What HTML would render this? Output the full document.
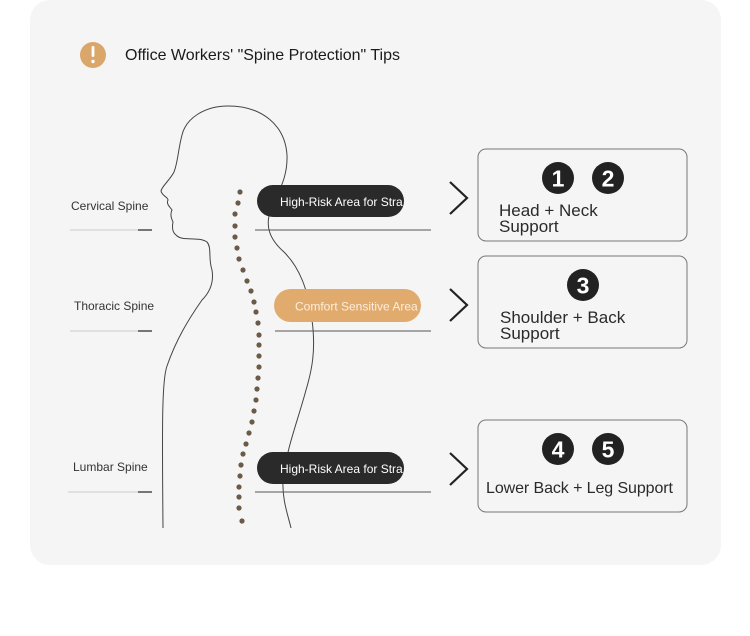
<!DOCTYPE html>
<html><head><meta charset="utf-8"><style>
html,body{margin:0;padding:0;background:#fff;width:750px;height:636px;overflow:hidden}
svg{display:block}
text{font-family:"Liberation Sans",Arial,sans-serif}
</style></head><body>
<svg width="750" height="636" viewBox="0 0 750 636" xmlns="http://www.w3.org/2000/svg">
<rect x="30" y="0" width="691" height="565" rx="20" fill="#f5f5f5"/>
<circle cx="93" cy="55" r="13" fill="#dba66a"/>
<rect x="91.6" y="46" width="2.8" height="11" rx="1.2" fill="#fff"/>
<circle cx="93" cy="61.5" r="1.7" fill="#fff"/>
<text x="125" y="60" font-size="16" fill="#1a1a1a" textLength="275">Office Workers' "Spine Protection" Tips</text>

<path d="M228,106 C205,106 186,118 182,135 C178,150 178,162 174,172 C170,180 162,186 161,191 C162,196 168,197 168,200 C166,204 170,207 172,210 C170,214 171,218 173,222 C172,227 172,232 176,235 C182,242 198,236 207,242 C212,248 208,258 212,270 C214,282 210,292 202,300 C188,320 176,340 167,366 C162,380 162,420 163,528" fill="none" stroke="#444" stroke-width="1"/>
<path d="M228,106 C262,106 285,125 287,155 C288,180 276,195 270,212 C266,225 268,238 284,252 C300,268 308,290 312,320 C316,350 312,370 306,390 C298,420 286,450 283,480 C282,500 288,515 291,528" fill="none" stroke="#444" stroke-width="1"/>

<g fill="#6b5a48">
<circle cx="240" cy="192" r="2.6"/><circle cx="238" cy="203" r="2.6"/><circle cx="235" cy="214" r="2.6"/><circle cx="235" cy="226" r="2.6"/><circle cx="235" cy="237" r="2.6"/><circle cx="237" cy="248" r="2.6"/><circle cx="239" cy="259" r="2.6"/><circle cx="243" cy="270" r="2.6"/><circle cx="247" cy="281" r="2.6"/><circle cx="251" cy="291" r="2.6"/><circle cx="254" cy="302" r="2.6"/><circle cx="256" cy="312" r="2.6"/><circle cx="258" cy="323" r="2.6"/><circle cx="259" cy="335" r="2.6"/><circle cx="259" cy="345" r="2.6"/><circle cx="259" cy="356" r="2.6"/><circle cx="259" cy="367" r="2.6"/><circle cx="258" cy="378" r="2.6"/><circle cx="257" cy="389" r="2.6"/><circle cx="256" cy="400" r="2.6"/><circle cx="254" cy="411" r="2.6"/><circle cx="252" cy="422" r="2.6"/><circle cx="249" cy="433" r="2.6"/><circle cx="246" cy="444" r="2.6"/><circle cx="243" cy="454" r="2.6"/><circle cx="241" cy="465" r="2.6"/><circle cx="240" cy="476" r="2.6"/><circle cx="239" cy="487" r="2.6"/><circle cx="239" cy="497" r="2.6"/><circle cx="239" cy="508" r="2.6"/><circle cx="242" cy="521" r="2.6"/>
</g>

<text x="71" y="210" font-size="12" fill="#333">Cervical Spine</text>
<text x="74" y="310" font-size="12" fill="#333">Thoracic Spine</text>
<text x="73" y="471" font-size="12" fill="#333">Lumbar Spine</text>
<line x1="70" y1="230" x2="152" y2="230" stroke="#ccc" stroke-width="1"/><line x1="138" y1="230" x2="152" y2="230" stroke="#222" stroke-width="1.2"/>
<line x1="70" y1="331" x2="152" y2="331" stroke="#ccc" stroke-width="1"/><line x1="138" y1="331" x2="152" y2="331" stroke="#222" stroke-width="1.2"/>
<line x1="68" y1="492" x2="152" y2="492" stroke="#ccc" stroke-width="1"/><line x1="138" y1="492" x2="152" y2="492" stroke="#222" stroke-width="1.2"/>

<line x1="255" y1="230" x2="431" y2="230" stroke="#555" stroke-width="1"/>
<line x1="275" y1="331" x2="431" y2="331" stroke="#555" stroke-width="1"/>
<line x1="255" y1="492" x2="431" y2="492" stroke="#555" stroke-width="1"/>

<rect x="257" y="185" width="147" height="32" rx="16" fill="#2a2a2a"/>
<text x="280" y="206" font-size="12" fill="#fff">High-Risk Area for Stra</text>
<rect x="274" y="289" width="147" height="33" rx="16.5" fill="#e2ab6e"/>
<text x="295" y="310.5" font-size="12" fill="#fbeedc">Comfort Sensitive Area</text>
<rect x="257" y="452" width="147" height="32" rx="16" fill="#2a2a2a"/>
<text x="280" y="473" font-size="12" fill="#fff">High-Risk Area for Stra</text>

<g fill="none" stroke="#222" stroke-width="2.2">
<polyline points="450,182 467,198 450,214"/>
<polyline points="450,289 467,305 450,321"/>
<polyline points="450,453 467,469 450,485"/>
</g>

<g fill="none" stroke="#777" stroke-width="1">
<rect x="478" y="149" width="209" height="92" rx="8"/>
<rect x="478" y="256" width="209" height="92" rx="8"/>
<rect x="478" y="420" width="209" height="92" rx="8"/>
</g>
<g fill="#222">
<circle cx="558" cy="178" r="16"/><circle cx="608" cy="178" r="16"/>
<circle cx="583" cy="285" r="16"/>
<circle cx="558" cy="449" r="16"/><circle cx="608" cy="449" r="16"/>
</g>
<g fill="#fff" font-size="23" text-anchor="middle" font-weight="bold">
<text x="558" y="186.5">1</text><text x="608" y="186.5">2</text>
<text x="583" y="293.5">3</text>
<text x="558" y="457.5">4</text><text x="608" y="457.5">5</text>
</g>
<g fill="#2a2a2a" font-size="17">
<text x="499" y="216">Head + Neck</text><text x="499" y="232">Support</text>
<text x="500" y="323">Shoulder + Back</text><text x="500" y="339">Support</text>
<text x="486" y="493" font-size="16" textLength="187">Lower Back + Leg Support</text>
</g>
</svg>
</body></html>
